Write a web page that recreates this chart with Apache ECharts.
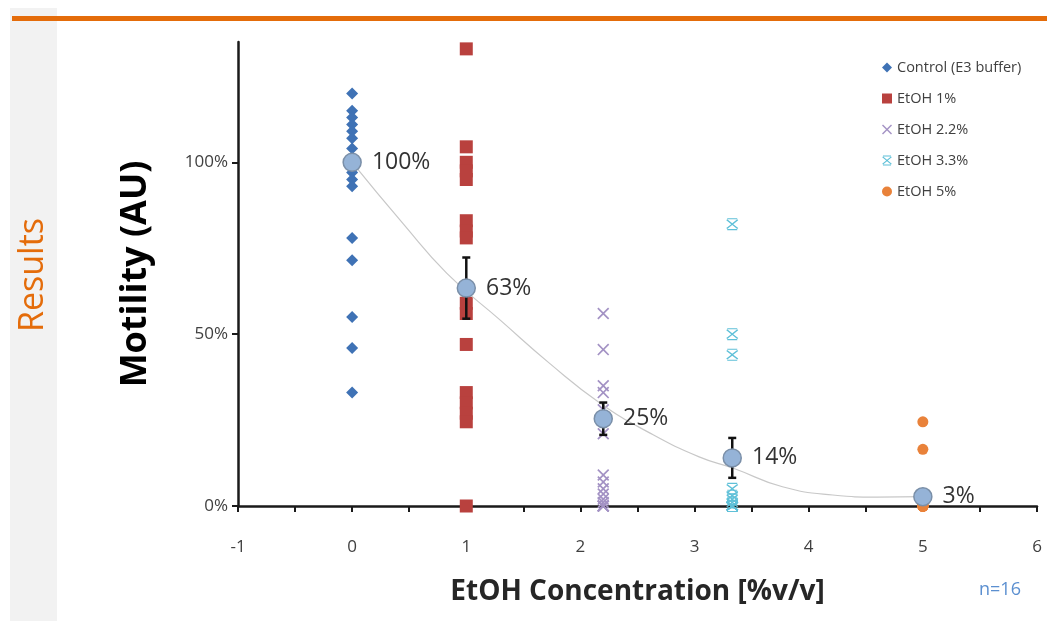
<!DOCTYPE html>
<html><head><meta charset="utf-8">
<script src="https://cdn.jsdelivr.net/npm/echarts@6/dist/echarts.min.js"></script>
<style>html,body{margin:0;padding:0;background:#fff}#c{width:1047px;height:621px}</style>
</head><body><div id="c"></div><script>
// ---- data ----
const seriesNames = ['Control (E3 buffer)', 'EtOH 1%', 'EtOH 2.2%', 'EtOH 3.3%', 'EtOH 5%'];
const concentrations = [0, 1, 2.2, 3.33, 5];
const controlValues = [1.20, 1.15, 1.13, 1.11, 1.09, 1.07, 1.04, 1.01, 0.97, 0.95, 0.93, 0.78, 0.715, 0.55, 0.46, 0.33];
const etoh1Values = [1.33, 1.045, 1.0, 0.975, 0.95, 0.83, 0.80, 0.78, 0.59, 0.56, 0.47, 0.33, 0.30, 0.27, 0.245, 0.0];
const etoh22Values = [0.56, 0.455, 0.35, 0.33, 0.28, 0.21, 0.09, 0.07, 0.05, 0.035, 0.02, 0.01, 0.0, 0.0, 0.0, 0.0];
const etoh33Values = [0.82, 0.50, 0.44, 0.05, 0.03, 0.02, 0.01, 0.0, 0.0, 0.0, 0.0, 0.0, 0.0, 0.0, 0.0, 0.0];
const etoh5Values = [0.245, 0.165, 0.0, 0.0, 0.0, 0.0, 0.0, 0.0, 0.0, 0.0, 0.0, 0.0, 0.0, 0.0, 0.0, 0.0];
const meanValues = [1.0, 0.634, 0.254, 0.14, 0.027];
const errorValues = [0.0, 0.089, 0.047, 0.058, 0.008];
const trendX = [0, 0.45, 0.83, 1.3, 1.73, 2.17, 2.61, 3.04, 3.34, 3.77, 4.21, 4.6, 5];
const trendY = [1.0, 0.82, 0.677, 0.54, 0.415, 0.30, 0.212, 0.143, 0.11, 0.056, 0.032, 0.026, 0.027];
const yTickValues = [0, 0.5, 1.0];
const xTickLabels = [-1, 0, 1, 2, 3, 4, 5, 6];

const groups = [controlValues, etoh1Values, etoh22Values, etoh33Values, etoh5Values];
const pts = (x, arr) => arr.map(v => [x, v]);

const X_PATH = 'path://M1,0 L5,4 L9,0 L10,1 L6,5 L10,9 L9,10 L5,6 L1,10 L0,9 L4,5 L0,1 Z';
const STAR_PATH = 'path://M1,1 L5,4.2 L9,1 L9.8,1.8 L5.8,5 L9.8,8.2 L9,9 L5,5.8 L1,9 L0.2,8.2 L4.2,5 L0.2,1.8 Z M1,0 L9,0 L9,0.9 L1,0.9 Z M1,9.1 L9,9.1 L9,10 L1,10 Z';

const markerStyles = [
  { symbol: 'diamond', symbolSize: 12, color: '#3f72b5' },
  { symbol: 'rect', symbolSize: 13, color: '#b9413e' },
  { symbol: X_PATH, symbolSize: 12, color: '#a392c4' },
  { symbol: STAR_PATH, symbolSize: 12, color: '#5fc0d8' },
  { symbol: 'circle', symbolSize: 11, color: '#e9823a' }
];

const chart = echarts.init(document.getElementById('c'), null, { renderer: 'canvas' });
const FONT = '"Open Sans", Lato, "Liberation Sans", sans-serif';

const scatterSeries = seriesNames.map((name, i) => ({
  name: name,
  type: 'scatter',
  symbol: markerStyles[i].symbol,
  symbolSize: markerStyles[i].symbolSize,
  itemStyle: { color: markerStyles[i].color, opacity: 1 },
  data: pts(concentrations[i], groups[i]),
  z: 2
}));

const option = {
  backgroundColor: '#ffffff',
  animation: false,
  textStyle: { fontFamily: FONT },
  graphic: [
    { type: 'rect', shape: { x: 10, y: 8, width: 47, height: 621 }, style: { fill: '#f2f2f2' }, z: 0 },
    { type: 'rect', shape: { x: 12, y: 16, width: 1040, height: 5 }, style: { fill: '#e46c0a' }, z: 1 },
    { type: 'text', x: 33, y: 275, rotation: Math.PI / 2,
      style: { text: 'Results', fill: '#e46c0a', font: '34px ' + FONT, align: 'center', verticalAlign: 'middle' } },
    { type: 'text', x: 1000, y: 590,
      style: { text: 'n=16', fill: '#5b8fd0', font: '18px ' + FONT, align: 'center', verticalAlign: 'middle' } }
  ],
  grid: { left: 238, right: 10, top: 42, bottom: 115, containLabel: false },
  legend: {
    orient: 'vertical', left: 877, top: 55,
    itemWidth: 10, itemHeight: 10, itemGap: 16,
    data: seriesNames,
    textStyle: { fontSize: 14.5, color: '#404040', fontFamily: FONT }
  },
  xAxis: {
    type: 'value', min: -1, max: 6, interval: 1,
    name: 'EtOH Concentration [%v/v]', nameLocation: 'middle', nameGap: 72,
    nameTextStyle: { fontSize: 28, fontWeight: 'bold', color: '#262626', fontFamily: FONT },
    axisLine: { show: true, onZero: false, lineStyle: { color: '#1a1a1a', width: 2.5 } },
    axisTick: { show: true, length: 6, lineStyle: { color: '#1a1a1a', width: 2 } },
    minorTick: { show: true, splitNumber: 2, length: 6, lineStyle: { color: '#1a1a1a', width: 2 } },
    axisLabel: { fontSize: 17, color: '#404040', margin: 33, fontFamily: FONT,
      formatter: v => String(xTickLabels[Math.round(v) + 1] !== undefined ? xTickLabels[Math.round(v) + 1] : v) },
    splitLine: { show: false }
  },
  yAxis: {
    type: 'value', min: 0, max: 1.35,
    name: 'Motility (AU)', nameLocation: 'middle', nameGap: 84,
    nameTextStyle: { fontSize: 36, fontWeight: 'bold', color: '#000000', fontFamily: FONT },
    axisLine: { show: true, onZero: false, lineStyle: { color: '#1a1a1a', width: 2.5 } },
    axisTick: { show: true, length: 6, customValues: yTickValues, lineStyle: { color: '#1a1a1a', width: 2 } },
    axisLabel: { fontSize: 17, color: '#404040', margin: 10, fontFamily: FONT, customValues: yTickValues,
      formatter: v => Math.round(v * 100) + '%' },
    splitLine: { show: false }
  },
  series: scatterSeries.concat([
    {
      name: 'trend', type: 'line', smooth: true, showSymbol: false, symbol: 'none',
      data: trendX.map((x, i) => [x, trendY[i]]),
      lineStyle: { color: '#c8c8c8', width: 1.2 }, z: 3, silent: true
    },
    {
      name: 'error', type: 'custom', z: 4,
      data: concentrations.map((x, i) => [x, meanValues[i], errorValues[i]]),
      renderItem: function (params, api) {
        const x = api.value(0), m = api.value(1), e = api.value(2);
        if (!e) return null;
        const top = api.coord([x, m + e]);
        const bot = api.coord([x, m - e]);
        const cap = 4;
        const st = { stroke: '#111', lineWidth: 2.5 };
        return { type: 'group', children: [
          { type: 'line', shape: { x1: top[0], y1: top[1], x2: bot[0], y2: bot[1] }, style: st },
          { type: 'line', shape: { x1: top[0] - cap, y1: top[1], x2: top[0] + cap, y2: top[1] }, style: st },
          { type: 'line', shape: { x1: bot[0] - cap, y1: bot[1], x2: bot[0] + cap, y2: bot[1] }, style: st }
        ] };
      }
    },
    {
      name: 'mean', type: 'scatter', symbol: 'circle', symbolSize: 18, z: 5,
      data: concentrations.map((x, i) => [x, meanValues[i]]),
      itemStyle: { color: '#95b3d7', borderColor: '#7a8fa8', borderWidth: 1.5, opacity: 1 },
      label: { show: true, position: 'right', distance: 10, fontSize: 23, color: '#333333', fontFamily: FONT,
        formatter: p => Math.round(p.value[1] * 100) + '%' }
    }
  ])
};
chart.setOption(option);
</script></body></html>
